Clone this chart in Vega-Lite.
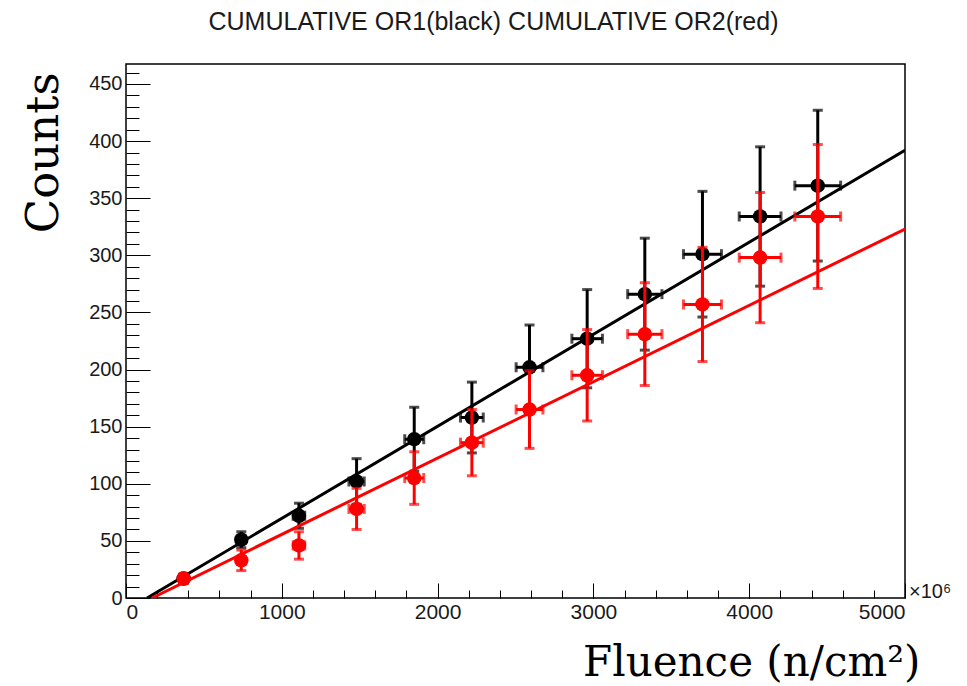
{
  "$schema": "https://vega.github.io/schema/vega-lite/v6.json",
  "width": 779,
  "height": 534,
  "autosize": {"type": "none"},
  "padding": {"left": 126, "top": 64, "right": 62, "bottom": 88},
  "background": "white",
  "config": {
    "view": {"stroke": "#000", "strokeWidth": 1.5},
    "axis": {"grid": false, "domain": false, "tickColor": "#000", "tickWidth": 1, "labelFont": "Liberation Sans", "labelColor": "#1a1a1a"}
  },
  "title": {"text": "CUMULATIVE OR1(black) CUMULATIVE OR2(red)", "font": "Liberation Sans", "fontSize": 25, "fontWeight": "normal", "color": "#1a1a1a", "anchor": "middle", "frame": "group", "dx": -22, "offset": 9, "baseline": "alphabetic"},
  "datasets": {
    "black": [
      {"x": 370, "xerr": 12, "y": 17, "yerr": 4},
      {"x": 740, "xerr": 25, "y": 51, "yerr": 7},
      {"x": 1110, "xerr": 37, "y": 72, "yerr": 11},
      {"x": 1480, "xerr": 49, "y": 102, "yerr": 20},
      {"x": 1850, "xerr": 61, "y": 139, "yerr": 28},
      {"x": 2220, "xerr": 73, "y": 158, "yerr": 31},
      {"x": 2590, "xerr": 86, "y": 202, "yerr": 37},
      {"x": 2960, "xerr": 98, "y": 227, "yerr": 43},
      {"x": 3330, "xerr": 110, "y": 266, "yerr": 49},
      {"x": 3700, "xerr": 122, "y": 301, "yerr": 55},
      {"x": 4070, "xerr": 134, "y": 334, "yerr": 61},
      {"x": 4440, "xerr": 147, "y": 361, "yerr": 66}
    ],
    "red": [
      {"x": 370, "xerr": 12, "y": 17, "yerr": 4},
      {"x": 740, "xerr": 25, "y": 33, "yerr": 9},
      {"x": 1110, "xerr": 37, "y": 46, "yerr": 12},
      {"x": 1480, "xerr": 49, "y": 78, "yerr": 18},
      {"x": 1850, "xerr": 61, "y": 105, "yerr": 23},
      {"x": 2220, "xerr": 73, "y": 136, "yerr": 29},
      {"x": 2590, "xerr": 86, "y": 165, "yerr": 34},
      {"x": 2960, "xerr": 98, "y": 195, "yerr": 40},
      {"x": 3330, "xerr": 110, "y": 231, "yerr": 45},
      {"x": 3700, "xerr": 122, "y": 257, "yerr": 50},
      {"x": 4070, "xerr": 134, "y": 298, "yerr": 57},
      {"x": 4440, "xerr": 147, "y": 334, "yerr": 63}
    ],
    "blackfit": [{"x": 135, "y": 0}, {"x": 5000, "y": 392}],
    "redfit": [{"x": 167, "y": 0}, {"x": 5000, "y": 323}],
    "note": [{"x": 5000, "y": 0, "label": "×10⁶"}]
  },
  "layer": [
    {
      "data": {"name": "blackfit"},
      "mark": {"type": "line", "color": "#000", "strokeWidth": 3, "clip": true},
      "encoding": {
        "x": {"field": "x", "type": "quantitative", "scale": {"domain": [0, 5000], "nice": false, "zero": false},
          "axis": {"values": [0,200,400,600,800,1000,1200,1400,1600,1800,2000,2200,2400,2600,2800,3000,3200,3400,3600,3800,4000,4200,4400,4600,4800,5000], "labels": false, "tickSize": -8, "title": null, "orient": "bottom"}},
        "y": {"field": "y", "type": "quantitative", "scale": {"domain": [0, 467.5], "nice": false, "zero": false},
          "axis": {"values": [0,10,20,30,40,50,60,70,80,90,100,110,120,130,140,150,160,170,180,190,200,210,220,230,240,250,260,270,280,290,300,310,320,330,340,350,360,370,380,390,400,410,420,430,440,450,460], "labels": false, "tickSize": -13, "title": null, "orient": "left"}}
      }
    },
    {
      "data": {"name": "black"},
      "mark": {"type": "errorbar", "color": "#000", "thickness": 3, "ticks": {"size": 10, "thickness": 3}},
      "encoding": {
        "x": {"field": "x", "type": "quantitative", "scale": {"domain": [0, 5000], "nice": false, "zero": false}, "axis": null},
        "y": {"field": "y", "type": "quantitative", "scale": {"domain": [0, 467.5], "nice": false, "zero": false}, "axis": null},
        "yError": {"field": "yerr"}
      }
    },
    {
      "data": {"name": "black"},
      "mark": {"type": "errorbar", "color": "#000", "thickness": 3, "ticks": {"size": 10, "thickness": 3}},
      "encoding": {
        "x": {"field": "x", "type": "quantitative", "scale": {"domain": [0, 5000], "nice": false, "zero": false}, "axis": null},
        "xError": {"field": "xerr"},
        "y": {"field": "y", "type": "quantitative", "scale": {"domain": [0, 467.5], "nice": false, "zero": false}, "axis": null}
      }
    },
    {
      "data": {"name": "black"},
      "mark": {"type": "circle", "color": "#000", "size": 210, "opacity": 1},
      "encoding": {
        "x": {"field": "x", "type": "quantitative", "scale": {"domain": [0, 5000], "nice": false, "zero": false},
          "axis": {"values": [0,1000,2000,3000,4000,5000], "format": "d", "tickSize": -15, "labelPadding": 18, "labelFontSize": 21, "orient": "bottom",
            "title": "Fluence (n/cm²)", "titleFont": "DejaVu Serif", "titleFontSize": 42, "titleFontWeight": "normal", "titleColor": "#000",
            "titleX": 794, "titleY": 77, "titleAlign": "right", "titleBaseline": "alphabetic", "titleAnchor": null}},
        "y": {"field": "y", "type": "quantitative", "scale": {"domain": [0, 467.5], "nice": false, "zero": false},
          "axis": {"values": [0,50,100,150,200,250,300,350,400,450], "format": "d", "tickSize": -24, "labelPadding": 28, "labelFontSize": 20, "orient": "left",
            "title": "Counts", "titleFont": "DejaVu Serif", "titleFontSize": 45, "titleFontWeight": "normal", "titleColor": "#000",
            "titleAngle": -90, "titleX": -69, "titleY": 8, "titleAlign": "right", "titleBaseline": "alphabetic", "titleAnchor": null}}
      }
    },
    {
      "data": {"name": "redfit"},
      "mark": {"type": "line", "color": "#ff0000", "strokeWidth": 3, "clip": true},
      "encoding": {
        "x": {"field": "x", "type": "quantitative", "scale": {"domain": [0, 5000], "nice": false, "zero": false}, "axis": null},
        "y": {"field": "y", "type": "quantitative", "scale": {"domain": [0, 467.5], "nice": false, "zero": false}, "axis": null}
      }
    },
    {
      "data": {"name": "red"},
      "mark": {"type": "errorbar", "color": "#ff0000", "thickness": 3, "ticks": {"size": 10, "thickness": 3}},
      "encoding": {
        "x": {"field": "x", "type": "quantitative", "scale": {"domain": [0, 5000], "nice": false, "zero": false}, "axis": null},
        "y": {"field": "y", "type": "quantitative", "scale": {"domain": [0, 467.5], "nice": false, "zero": false}, "axis": null},
        "yError": {"field": "yerr"}
      }
    },
    {
      "data": {"name": "red"},
      "mark": {"type": "errorbar", "color": "#ff0000", "thickness": 3, "ticks": {"size": 10, "thickness": 3}},
      "encoding": {
        "x": {"field": "x", "type": "quantitative", "scale": {"domain": [0, 5000], "nice": false, "zero": false}, "axis": null},
        "xError": {"field": "xerr"},
        "y": {"field": "y", "type": "quantitative", "scale": {"domain": [0, 467.5], "nice": false, "zero": false}, "axis": null}
      }
    },
    {
      "data": {"name": "red"},
      "mark": {"type": "circle", "color": "#ff0000", "size": 210, "opacity": 1},
      "encoding": {
        "x": {"field": "x", "type": "quantitative", "scale": {"domain": [0, 5000], "nice": false, "zero": false}, "axis": null},
        "y": {"field": "y", "type": "quantitative", "scale": {"domain": [0, 467.5], "nice": false, "zero": false}, "axis": null}
      }
    },
    {
      "data": {"name": "note"},
      "mark": {"type": "text", "align": "left", "baseline": "alphabetic", "dx": 4, "dy": 0, "fontSize": 20, "font": "Liberation Sans", "color": "#1a1a1a"},
      "encoding": {
        "x": {"field": "x", "type": "quantitative", "scale": {"domain": [0, 5000], "nice": false, "zero": false}, "axis": null},
        "y": {"field": "y", "type": "quantitative", "scale": {"domain": [0, 467.5], "nice": false, "zero": false}, "axis": null},
        "text": {"field": "label"}
      }
    }
  ],
  "resolve": {"axis": {"x": "independent", "y": "independent"}}
}
